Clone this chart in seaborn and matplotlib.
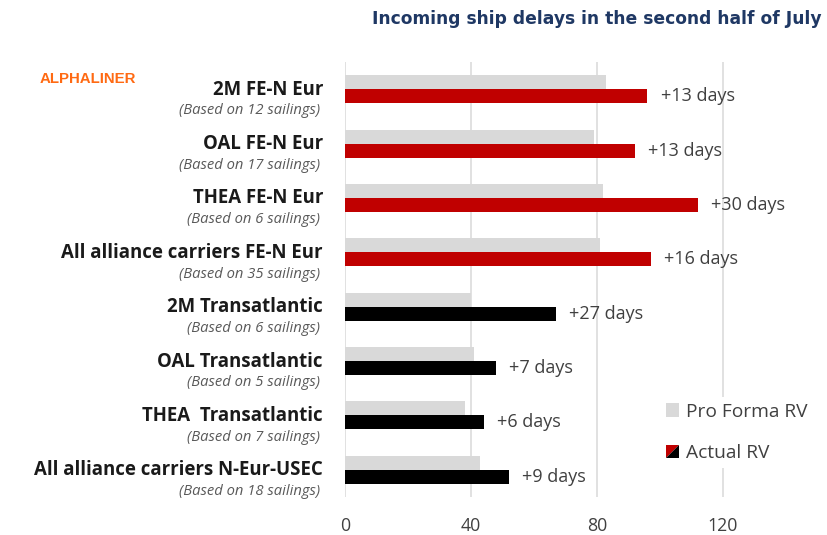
import numpy as np
import pandas as pd
import matplotlib
matplotlib.use("Agg")
import matplotlib.pyplot as plt
import seaborn as sns
from matplotlib.patches import Patch, Polygon
from matplotlib.legend_handler import HandlerBase
from matplotlib.transforms import blended_transform_factory

# ---------------- data ----------------
routes = ["2M FE-N Eur", "OAL FE-N Eur", "THEA FE-N Eur", "All alliance carriers FE-N Eur",
          "2M Transatlantic", "OAL Transatlantic", "THEA  Transatlantic", "All alliance carriers N-Eur-USEC"]
sailings = [12, 17, 6, 35, 6, 5, 7, 18]
pro_forma = [83, 79, 82, 81, 40, 41, 38, 43]
actual = [96, 92, 112, 97, 67, 48, 44, 52]
delay_labels = ["+13 days", "+13 days", "+30 days", "+16 days", "+27 days", "+7 days", "+6 days", "+9 days"]
series_names = ["Pro Forma RV", "Actual RV"]
x_ticks = [0, 40, 80, 120]

df = pd.DataFrame({
    "route": routes * 2,
    "series": [series_names[0]] * len(routes) + [series_names[1]] * len(routes),
    "value": pro_forma + actual,
})

# ---------------- figure ----------------
sns.set_theme(style="white")
plt.rcParams["font.family"] = ["Open Sans", "DejaVu Sans"]

fig = plt.figure(figsize=(8.28, 5.35), dpi=100)
ax = fig.add_axes([345 / 828, 38 / 535, (817.5 - 345) / 828, (497 - 62) / 535])

GREY = "#D9D9D9"
RED = "#C00000"
BLACK = "#000000"

sns.barplot(data=df, y="route", x="value", hue="series", orient="h",
            order=routes, hue_order=series_names, palette=[GREY, RED],
            saturation=1, width=0.515, ax=ax, legend=False, errorbar=None)

# Transatlantic actual bars are black
for i, bar in enumerate(ax.containers[1]):
    bar.set_edgecolor("none")
    if i >= 4:
        bar.set_facecolor(BLACK)
for bar in ax.containers[0]:
    bar.set_edgecolor("none")

ax.set_xlim(0, 150)
ax.set_ylim(7.5, -0.5)
ax.set_xticks(x_ticks)
ax.set_xticklabels([str(t) for t in x_ticks], fontsize=12.8, color="#404040")
ax.tick_params(axis="x", length=0, pad=14.5)
ax.set_yticks([])
ax.set_xlabel("")
ax.set_ylabel("")
for s in ax.spines.values():
    s.set_visible(False)
ax.xaxis.grid(True, color="#D9D9D9", lw=1.1)
ax.set_axisbelow(True)

# value labels
for i, bar in enumerate(ax.containers[1]):
    x_end = bar.get_x() + bar.get_width()
    yc = bar.get_y() + bar.get_height() / 2
    ax.annotate(delay_labels[i], (x_end, yc), xytext=(9.5, 0), textcoords="offset points",
                ha="left", va="center", fontsize=13, color="#404040")

# row labels
tr = blended_transform_factory(fig.transFigure, ax.transData)
for i, (r, n) in enumerate(zip(routes, sailings)):
    ax.text(323 / 828, i + 0.01, r, transform=tr, ha="right", va="center",
            fontsize=13.4, fontweight="bold", color="#1a1a1a")
    ax.text(320 / 828, i + 0.40, f"(Based on {n} sailings)", transform=tr, ha="right",
            va="center", fontsize=10.6, fontstyle="italic", color="#595959")

# title and branding
fig.text(822 / 828, 1 - 19 / 535, "Incoming ship delays in the second half of July",
         ha="right", va="center", fontsize=12.3, fontweight="bold", color="#1F3864",
         family=["DejaVu Sans"])
fig.text(40 / 828, 1 - 79 / 535, "ALPHALINER", ha="left", va="center", fontsize=10.8,
         fontweight="bold", color="#FF6A13", family=["Liberation Sans", "DejaVu Sans"])


# legend
class SplitHandler(HandlerBase):
    def create_artists(self, legend, orig_handle, xdescent, ydescent, width, height, fontsize, trans):
        s = min(width, height)
        x0 = -xdescent + (width - s) / 2
        y0 = -ydescent + (height - s) / 2
        p1 = Polygon([[x0, y0], [x0, y0 + s], [x0 + s, y0 + s]], closed=True,
                     facecolor=RED, edgecolor="none", transform=trans)
        p2 = Polygon([[x0, y0], [x0 + s, y0], [x0 + s, y0 + s]], closed=True,
                     facecolor=BLACK, edgecolor="none", transform=trans)
        return [p1, p2]


class SquareHandler(HandlerBase):
    def create_artists(self, legend, orig_handle, xdescent, ydescent, width, height, fontsize, trans):
        s = min(width, height)
        x0 = -xdescent + (width - s) / 2
        y0 = -ydescent + (height - s) / 2
        p = Polygon([[x0, y0], [x0 + s, y0], [x0 + s, y0 + s], [x0, y0 + s]], closed=True,
                    facecolor=GREY, edgecolor="none", transform=trans)
        return [p]


h_pf = Patch(facecolor=GREY)
h_ac = Patch(facecolor=RED)
leg = fig.legend([h_pf, h_ac], series_names, loc="upper left",
                 bbox_to_anchor=(660 / 828, 1 - 397 / 535),
                 handler_map={h_pf: SquareHandler(), h_ac: SplitHandler()},
                 frameon=True, facecolor="white", edgecolor="none", framealpha=1,
                 fontsize=13.8, handlelength=0.72, handleheight=0.72, handletextpad=0.35,
                 labelspacing=1.22, borderpad=0.3, borderaxespad=0)
for t in leg.get_texts():
    t.set_color("#404040")

fig.savefig("out.png", dpi=100)
